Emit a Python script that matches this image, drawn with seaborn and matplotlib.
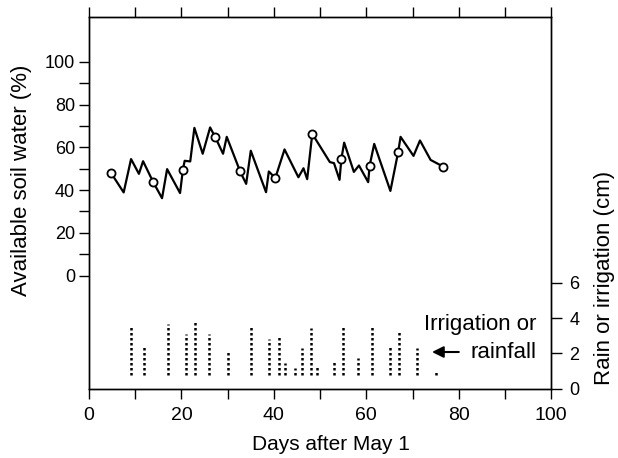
import numpy as np
import pandas as pd
import matplotlib
matplotlib.use("Agg")
import matplotlib.pyplot as plt
import seaborn as sns

# soil water trace (days after May 1, % available)
days = [4.8, 7.5, 9.1, 10.8, 11.7, 13.9, 15.8, 16.9, 19.7, 20.3, 20.7, 21.9,
        22.8, 24.6, 26.2, 27.3, 29.0, 29.8, 32.7, 34.0, 35.0, 38.3, 38.9, 40.3,
        42.3, 45.3, 46.4, 47.2, 48.3, 52.1, 53.0, 54.2, 54.6, 55.2, 57.3, 58.4,
        60.4, 60.7, 61.7, 65.2, 66.9, 67.4, 70.2, 71.6, 73.9, 76.6]
soil_water = [47.9, 38.9, 54.5, 47.6, 53.5, 43.7, 36.2, 49.8, 38.6, 49.3, 53.7, 53.4,
              69.1, 57.0, 69.3, 64.8, 57.0, 64.9, 48.7, 42.9, 58.4, 39.0, 48.7, 45.6,
              59.0, 46.0, 50.2, 45.1, 66.3, 53.1, 52.6, 44.8, 54.6, 62.2, 48.5, 51.5,
              43.7, 51.3, 61.6, 39.6, 58.0, 64.9, 56.0, 63.2, 54.1, 51.0]

# measured points (open circles)
meas_days = [4.8, 13.9, 20.3, 27.3, 32.7, 40.3, 48.3, 54.6, 60.7, 66.9, 76.6]
meas_water = [47.9, 43.7, 49.3, 64.8, 48.7, 45.6, 66.3, 54.6, 51.3, 58.0, 51.0]

# irrigation / rainfall events (cm)
rain_days = [9, 12, 17, 21, 23, 26, 30, 35, 39, 41, 42.5, 44.5, 46, 48, 49.3,
             53.1, 55, 58.2, 61.2, 65.2, 67, 71, 75]
rain_cm = [3.6, 2.43, 3.65, 3.1, 3.8, 3.07, 2.2, 3.6, 2.83, 2.92, 1.44, 1.2, 2.32,
           3.43, 1.37, 1.52, 3.5, 1.76, 3.63, 2.5, 3.35, 2.28, 1.07]
rain_base = 0.8

sns.set_style("ticks", {'axes.edgecolor': 'black', 'text.color': 'black',
                        'axes.labelcolor': 'black', 'xtick.color': 'black',
                        'ytick.color': 'black'})
plt.rcParams['font.family'] = ['Liberation Sans', 'DejaVu Sans']

fig = plt.figure(figsize=(6.18, 4.58), dpi=100)
ax = fig.add_axes([0.144, 0.151, 0.748, 0.812])

line_df = pd.DataFrame({'day': days, 'water': soil_water})
meas_df = pd.DataFrame({'day': meas_days, 'water': meas_water})
sns.lineplot(data=line_df, x='day', y='water', ax=ax, color='black', lw=1.6,
             sort=False, estimator=None)
sns.scatterplot(data=meas_df, x='day', y='water', ax=ax, marker='o', s=34,
                color='white', edgecolor='black', linewidth=1.3, zorder=3)

ax.set_xlim(0, 100)
ax.set_ylim(-53, 121)
ax.set_xticks(range(0, 101, 10))
ax.set_xticklabels([str(v) if v % 20 == 0 else '' for v in range(0, 101, 10)])
ax.set_yticks(range(0, 101, 10))
ax.set_yticklabels([str(v) if v % 20 == 0 else '' for v in range(0, 101, 10)])
ax.tick_params(axis='x', top=True, direction='out', length=7, width=1.0,
               labelsize=14, pad=6)
ax.tick_params(axis='y', left=True, right=False, direction='out', length=7,
               width=1.0, labelsize=13, pad=3)
ax.set_xlabel('Days after May 1', fontsize=15)
ax.xaxis.set_label_coords(0.524, -0.125)
ax.set_ylabel('Available soil water (%)', fontsize=16)
ax.yaxis.set_label_coords(-0.123, 0.56)
for s in ax.spines.values():
    s.set_linewidth(1.0)
    s.set_visible(True)

ax2 = ax.twinx()
ax2.vlines(rain_days, rain_base, rain_cm, colors='black',
           linestyles=(0, (1, 1)), lw=1.8)
ax2.set_ylim(0, 21)
ax2.set_yticks([0, 2, 4, 6])
ax2.tick_params(axis='y', direction='out', length=8, width=1.0, labelsize=13, pad=5)
ax2.set_ylabel('Rain or irrigation (cm)', fontsize=16)
ax2.yaxis.set_label_coords(1.093, 0.298)
for s in ax2.spines.values():
    s.set_linewidth(1.0)

ax2.text(96.7, 3.65, 'Irrigation or', ha='right', va='center', fontsize=16)
ax2.text(96.7, 2.08, 'rainfall', ha='right', va='center', fontsize=16)
ax2.annotate('', xy=(73.6, 2.08), xytext=(80.6, 2.08),
             arrowprops=dict(arrowstyle='-|>', color='black', lw=1.5,
                             mutation_scale=17))

fig.savefig('out.png', dpi=100)
